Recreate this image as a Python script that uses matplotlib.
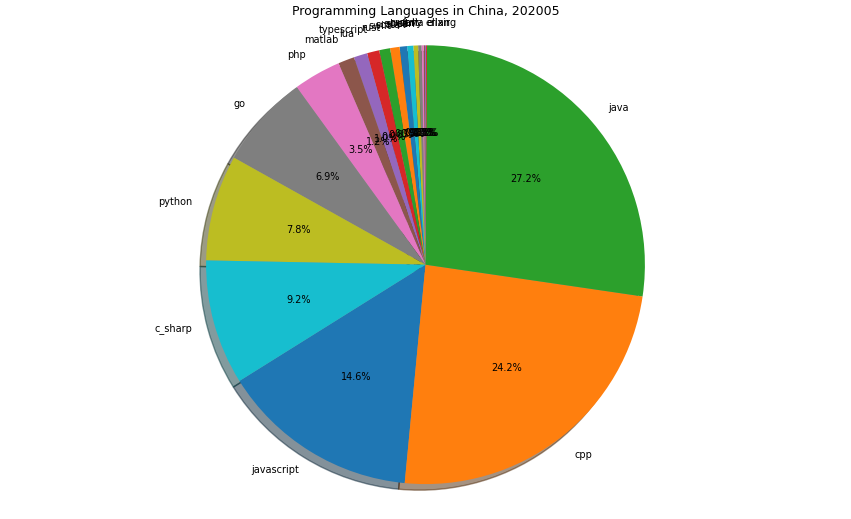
import matplotlib.pyplot as plt

labels = ["javascript", "cpp", "java",
          "elixir", "erlang", "julia", "groovy", "dart", "perl",
          "shell", "scala", "swift", "rust",
          "typescript", "lua", "matlab", "php", "go", "python", "c_sharp"]
shares = [14.6, 24.2, 27.2,
          0.07, 0.08, 0.1, 0.15, 0.25, 0.35,
          0.45, 0.55, 0.7, 0.8,
          0.9, 1.0, 1.2, 3.5, 6.9, 7.8, 9.2]

fig, ax = plt.subplots(figsize=(8.51, 5.19), dpi=100)
ax.pie(shares, labels=labels, autopct="%1.1f%%", shadow=True, startangle=212,
       textprops={"fontsize": 7})
ax.axis("equal")
ax.set_title("Programming Languages in China, 202005", fontsize=9)
plt.subplots_adjust(left=0.02, right=0.98, top=0.955, bottom=0.025)
plt.savefig("out.png")
